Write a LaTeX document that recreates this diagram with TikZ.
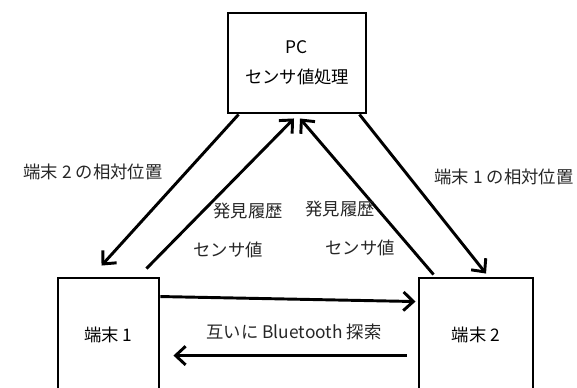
\documentclass[tikz,border=0pt]{standalone}
\usepackage{fontspec}
\setmainfont{Noto Sans CJK JP}
\usetikzlibrary{arrows.meta,positioning,calc}

\begin{document}
\begin{tikzpicture}[
      x=0.75pt, y=-0.75pt,
      every node/.style={font=\fontsize{13pt}{22.5pt}\selectfont},
      box/.style={rectangle,draw,line width=2.2pt,inner sep=0pt},
      link/.style={line width=2.2pt,-{Straight Barb[length=7.5pt,width=14pt]}},
      lbl/.style={text=black!85}
  ]
  \useasboundingbox (0,0) rectangle (577,387);

  % ===================== boxes =====================
  \node[box,minimum width=103.5pt,minimum height=75pt,align=center] (pc) at (297,63)
      {PC\\センサ値処理};
  \node[box,minimum width=75.75pt,minimum height=85.5pt] (t1) at (108.5,335) {端末 1};
  \node[box,minimum width=85.5pt,minimum height=85.5pt] (t2) at (476,335) {端末 2};

  % ===================== PC <-> terminals =====================
  \draw[link] ([shift={(12,0)}]pc.south west) -- ([shift={(45,-11)}]t1.north west);
  \draw[link] ([shift={(-14,-8)}]t1.north east) -- ([shift={(-3,4)}]pc.south);
  \draw[link] ([shift={(16,-2)}]t2.north west) -- ([shift={(3,4)}]pc.south);
  \draw[link] ([shift={(-8,0)}]pc.south east) -- ([shift={(10,-3)}]t2.north);

  \node[lbl] (rel2) at (93,172) {端末 2 の相対位置};
  \node[lbl] (rel1) at (504,177) {端末 1 の相対位置};
  \node[lbl] (hist1) at (248,211) {発見履歴};
  \node[lbl] (sens1) at (228,250) {センサ値};
  \node[lbl] (hist2) at (340,209) {発見履歴};
  \node[lbl] (sens2) at (360,248) {センサ値};

  % ===================== Bluetooth search =====================
  \draw[link] ([shift={(0,20)}]t1.north east) -- ([shift={(-2,25)}]t2.north west);
  \draw[link] ([shift={(-11,79)}]t2.north west) -- ([shift={(13,79)}]t1.north east);

  \node[lbl] (bt) at (294,332) {互いに Bluetooth 探索};

\end{tikzpicture}
\end{document}
